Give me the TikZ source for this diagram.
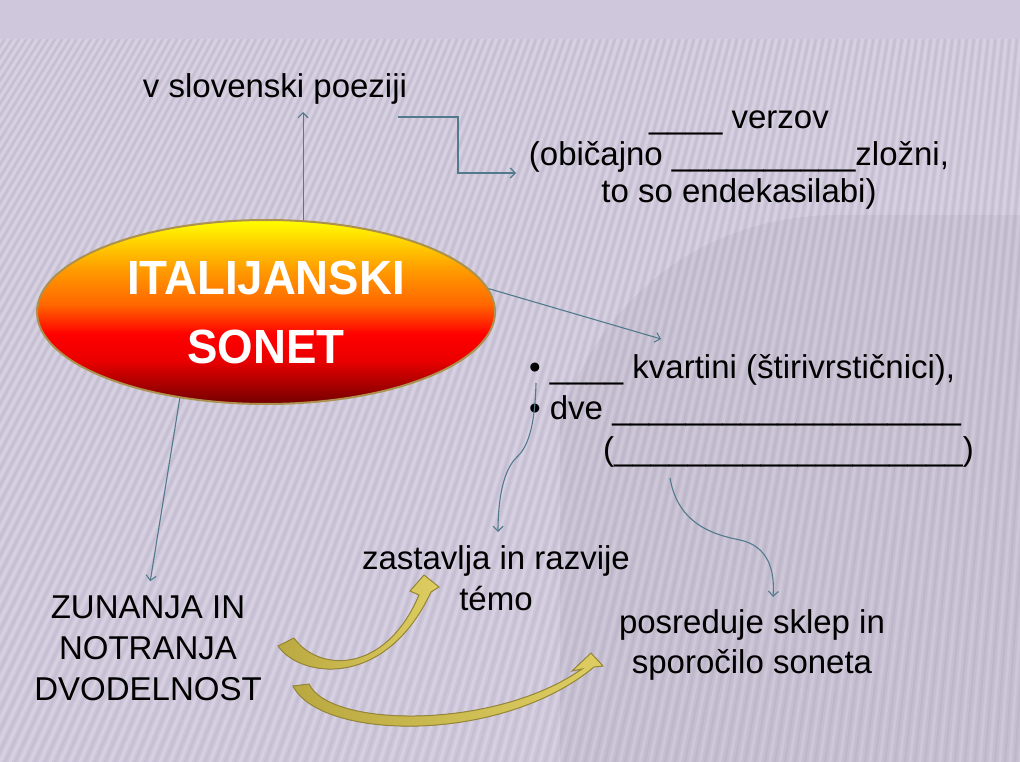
\documentclass[tikz,border=0pt]{standalone}
\usepackage{fontspec}
\setmainfont{Liberation Sans}
\newfontfamily\titlefont[FakeStretch=0.95]{Liberation Sans}
\usetikzlibrary{shapes.geometric,arrows.meta}

\definecolor{slidebg}{RGB}{205,198,218}
\definecolor{slidetop}{RGB}{207,200,220}
\definecolor{linkblue}{RGB}{82,122,140}
\definecolor{goldA}{RGB}{186,168,64}
\definecolor{goldB}{RGB}{222,206,98}
\definecolor{goldrim}{RGB}{150,134,56}
\definecolor{ovalrim}{RGB}{172,146,78}
\pgfdeclareverticalshading{sonetfill}{100bp}{%
  color(0bp)=(red!45!black); color(25bp)=(red!45!black);
  color(30bp)=(red!65!black); color(37bp)=(red!92!black);
  color(44bp)=(red); color(52bp)=(red!60!yellow);
  color(62bp)=(red!38!yellow); color(75bp)=(yellow); color(100bp)=(yellow)}

\tikzset{
  txt/.style={font=\fontsize{33}{41}\selectfont, align=center},
  oval/.style={ellipse, draw=ovalrim, line width=2pt, shading=sonetfill,
    minimum width=458pt, minimum height=184pt, align=center, text=white,
    font=\titlefont\bfseries\fontsize{48}{69}\selectfont},
  link/.style={draw=linkblue, line width=1.1pt,
    -{Straight Barb[length=5pt,width=10pt]}},
  goldarrow/.style={left color=goldA, right color=goldB, draw=goldrim, line width=1pt}
}

\begin{document}
\begin{tikzpicture}[x=1pt,y=-1pt]
\tikzstyle{every node}+=[inner sep=0pt]
\useasboundingbox (0,0) rectangle (1020,762);
% background
\fill[slidebg] (0,0) rectangle (1020,762);
\fill[slidetop] (0,0) rectangle (1020,40);
\begin{scope}
\clip (0,40) rectangle (1020,762);
\foreach \s in {-480,-470,...,1080}{
  \draw[white, opacity=.18, line width=3pt] (1200,-1800) -- (\s,762);
  \draw[black, opacity=.035, line width=2pt] (1200,-1800) -- (\s+5,762);
}
\fill[black, opacity=.04] (1020,215) -- (840,215) .. controls (700,215) and (600,300) .. (560,420) -- (560,762) -- (1020,762) -- cycle;
\end{scope}

% nodes (multi-line ones sit on the baseline of their last line)
\node[oval] (sonet) at (266,312) {ITALIJANSKI\\SONET};
\node[txt, anchor=base] (poez) at (275,98) {v slovenski poeziji};
\node[txt, anchor=base, font=\fontsize{33}{37}\selectfont] (verz) at (739,203)
  {\_\_\_\_ verzov\\(običajno \_\_\_\_\_\_\_\_\_\_zložni,\\to so endekasilabi)};
\node[txt, align=left, anchor=base west] (kvar) at (529,460)
  {• \_\_\_\_ kvartini (štirivrstičnici),\\
   • dve \_\_\_\_\_\_\_\_\_\_\_\_\_\_\_\_\_\_\_\\
   \hspace*{74pt}(\_\_\_\_\_\_\_\_\_\_\_\_\_\_\_\_\_\_\_)};
\node[txt, anchor=base] (zun) at (148,700) {ZUNANJA IN\\NOTRANJA\\DVODELNOST};
\node[txt, anchor=base] (zast) at (496,610) {zastavlja in razvije\\témo};
\node[txt, anchor=base, font=\fontsize{33}{40}\selectfont] (posr) at (752,673)
  {posreduje sklep in\\sporočilo soneta};

% free ends
\coordinate (poezEnd) at (398,117);
\coordinate (verzIn) at (516,173);
\coordinate (kvarIn) at (661,339);
\coordinate (kvarOut) at (536,383);
\coordinate (zastIn) at (498,532);
\coordinate (dveOut) at (670,478);
\coordinate (posrIn) at (773,597);

% connectors
\draw[link, shorten >=7pt] (sonet.68) -- (sonet.68 |- poez.south);
\draw[link] (poezEnd) -- ++(60,0) |- (verzIn);
\draw[link] (sonet.6) -- (kvarIn);
\draw[link, shorten >=14pt] (sonet.225) -- (zun.north);
\draw[link] (kvarOut) .. controls (535,420) and (530,445) .. (517,457)
  .. controls (503,470) and (498,500) .. (zastIn);
\draw[link] (dveOut) .. controls (678,525) and (715,535) .. (740,540)
  .. controls (768,546) and (775,570) .. (posrIn);

% curved block arrows
\fill[goldarrow] (278,646) .. controls (300,678) and (385,690) .. (431,592)
  -- (439,587) -- (424,575) -- (410,591) -- (419,595)
  .. controls (385,675) and (318,672) .. (294,638) -- cycle;
\fill[goldarrow] (293,686) .. controls (320,740) and (500,745) .. (594,667)
  -- (603,666) -- (591,653) -- (572,671) -- (582,669)
  .. controls (495,730) and (330,728) .. (309,684) -- cycle;
\end{tikzpicture}
\end{document}
